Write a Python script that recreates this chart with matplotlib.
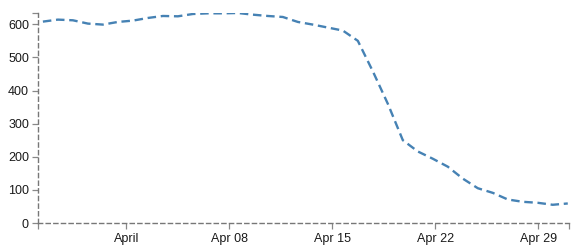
import numpy as np
import pandas as pd
import matplotlib
matplotlib.use('Agg')
import matplotlib.pyplot as plt
import matplotlib.dates as mdates

# data (one sample roughly per day)
dates = pd.date_range('2012-03-26 08:00', '2012-05-01 00:00', periods=36)
values = [608, 614, 612, 602, 599, 607, 611, 619, 625, 624,
          631, 633, 633, 634, 629, 625, 622, 607, 599, 590,
          581, 550, 458, 360, 250, 216, 194, 170, 134, 105,
          91, 71, 64, 61, 55, 59]

y_ticks = [0, 100, 200, 300, 400, 500, 600]
x_ticks = pd.to_datetime(['2012-04-01', '2012-04-08', '2012-04-15',
                          '2012-04-22', '2012-04-29'])
x_labels = ['April', 'Apr 08', 'Apr 15', 'Apr 22', 'Apr 29']
x_range = pd.to_datetime(['2012-03-26 00:00', '2012-05-01 02:00'])
y_top = 634

plt.rcParams['font.family'] = ['Liberation Sans', 'DejaVu Sans']

fig = plt.figure(figsize=(5.84, 2.5), dpi=100)
ax = fig.add_axes([38 / 584, 27 / 250, (569 - 38) / 584, (223 - 13) / 250])

ax.plot(dates, values, color='#4682b4', linewidth=1.7,
        linestyle=(0, (3.6, 2.0)), solid_capstyle='butt')

ax.set_xlim(x_range[0], x_range[1])
ax.set_ylim(0, y_top)

ax.set_yticks(y_ticks)
ax.set_xticks(x_ticks)
ax.set_xticklabels(x_labels)
# outer ticks at the ends of each axis
ax.set_xticks([x_range[0], x_range[1]], minor=True)
ax.set_yticks([y_top], minor=True)

for side in ['top', 'right']:
    ax.spines[side].set_visible(False)
for side in ['left', 'bottom']:
    ax.spines[side].set_linestyle((0, (3, 2.5)))
    ax.spines[side].set_color('#777777')
    ax.spines[side].set_linewidth(1.0)

ax.tick_params(which='both', direction='out', length=4.5, width=0.9,
               color='#888888', labelsize=9, labelcolor='#1a1a1a', pad=2)
ax.tick_params(axis='x', which='major', pad=3)

plt.savefig('out.png', dpi=100)
